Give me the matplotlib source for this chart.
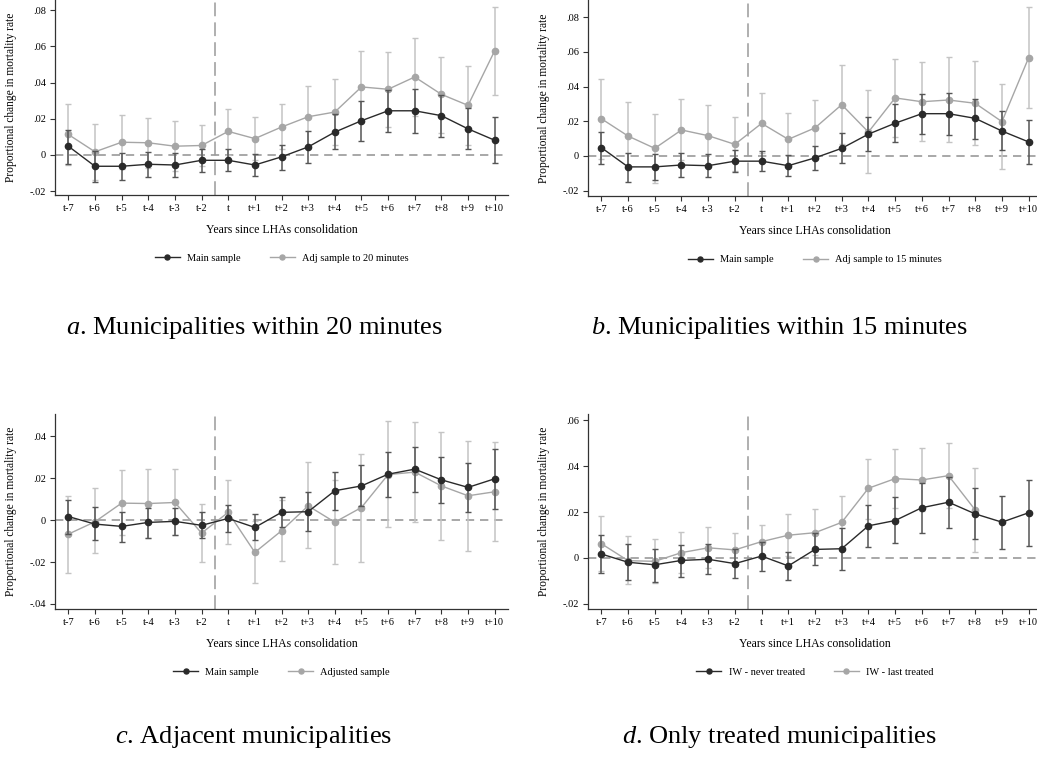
import numpy as np
import matplotlib.pyplot as plt

plt.rcParams['font.family'] = ['Liberation Serif', 'DejaVu Serif']
plt.rcParams['mathtext.fontset'] = 'custom'
plt.rcParams['mathtext.it'] = 'Liberation Serif:italic'
plt.rcParams['mathtext.rm'] = 'Liberation Serif'

periods = ['t-7', 't-6', 't-5', 't-4', 't-3', 't-2', 't', 't+1', 't+2', 't+3',
           't+4', 't+5', 't+6', 't+7', 't+8', 't+9', 't+10']

# main sample (panels a and b)
main_ab = [0.0048, -0.0063, -0.0063, -0.0052, -0.0056, -0.0030, -0.0030, -0.0056, -0.0011,
           0.0044, 0.0126, 0.0189, 0.0244, 0.0244, 0.0217, 0.0144, 0.0081]
main_ab_hi = [0.0140, 0.0020, 0.0011, 0.0017, 0.0013, 0.0033, 0.0031, 0.0007, 0.0057,
              0.0130, 0.0224, 0.0298, 0.0359, 0.0365, 0.0331, 0.0257, 0.0207]
main_ab_lo = [-0.0048, -0.0150, -0.0140, -0.0122, -0.0122, -0.0094, -0.0089, -0.0117, -0.0081,
              -0.0043, 0.0031, 0.0078, 0.0128, 0.0122, 0.0100, 0.0033, -0.0044]

# adjusted sample to 20 minutes (panel a)
adj20 = [0.0113, 0.0017, 0.0070, 0.0067, 0.0048, 0.0052, 0.0130, 0.0090, 0.0154,
         0.0211, 0.0237, 0.0376, 0.0363, 0.0431, 0.0335, 0.0274, 0.0576]
adj20_hi = [0.0283, 0.0169, 0.0219, 0.0206, 0.0185, 0.0165, 0.0252, 0.0207, 0.0281,
            0.0383, 0.0422, 0.0574, 0.0569, 0.0644, 0.0544, 0.0494, 0.0819]
adj20_lo = [-0.0057, -0.0137, -0.0076, -0.0072, -0.0089, -0.0060, 0.0000, -0.0030, 0.0030,
            0.0044, 0.0056, 0.0180, 0.0156, 0.0215, 0.0122, 0.0056, 0.0333]

# adjusted sample to 15 minutes (panel b)
adj15 = [0.0215, 0.0115, 0.0044, 0.0150, 0.0117, 0.0067, 0.0188, 0.0096, 0.0162,
         0.0296, 0.0138, 0.0335, 0.0313, 0.0323, 0.0304, 0.0198, 0.0567]
adj15_hi = [0.0446, 0.0313, 0.0244, 0.0327, 0.0292, 0.0223, 0.0362, 0.0250, 0.0323,
            0.0523, 0.0380, 0.0558, 0.0542, 0.0569, 0.0548, 0.0415, 0.0858]
adj15_lo = [-0.0019, -0.0062, -0.0156, -0.0023, -0.0060, -0.0087, 0.0015, -0.0060, 0.0002,
            0.0069, -0.0096, 0.0112, 0.0087, 0.0079, 0.0062, -0.0077, 0.0275]

# main sample / IW never treated (panels c and d)
main_cd = [0.0017, -0.0019, -0.0030, -0.0011, -0.0006, -0.0025, 0.0008, -0.0035, 0.0037,
           0.0040, 0.0140, 0.0163, 0.0219, 0.0243, 0.0192, 0.0156, 0.0197]
main_cd_hi = [0.0098, 0.0062, 0.0041, 0.0057, 0.0060, 0.0037, 0.0070, 0.0027, 0.0108,
              0.0132, 0.0230, 0.0265, 0.0325, 0.0351, 0.0303, 0.0270, 0.0341]
main_cd_lo = [-0.0065, -0.0097, -0.0103, -0.0083, -0.0071, -0.0086, -0.0056, -0.0097, -0.0033,
              -0.0051, 0.0048, 0.0065, 0.0110, 0.0132, 0.0081, 0.0041, 0.0052]

# adjacent municipalities (panel c)
adjc = [-0.0067, -0.0008, 0.0081, 0.0079, 0.0084, -0.0062, 0.0037, -0.0154, -0.0051,
        0.0068, -0.0010, 0.0060, 0.0217, 0.0229, 0.0163, 0.0116, 0.0135]
adjc_hi = [0.0117, 0.0152, 0.0238, 0.0243, 0.0243, 0.0075, 0.0190, -0.0005, 0.0095,
           0.0275, 0.0190, 0.0317, 0.0475, 0.0467, 0.0421, 0.0378, 0.0371]
adjc_lo = [-0.0251, -0.0157, -0.0073, -0.0083, -0.0073, -0.0200, -0.0114, -0.0302, -0.0195,
           -0.0133, -0.0210, -0.0198, -0.0035, -0.0011, -0.0097, -0.0146, -0.0098]

# IW last treated (panel d), up to t+8
iw_last = [0.0062, -0.0012, -0.0015, 0.0023, 0.0044, 0.0035, 0.0071, 0.0099, 0.0110,
           0.0155, 0.0304, 0.0346, 0.0340, 0.0359, 0.0209]
iw_last_hi = [0.0182, 0.0094, 0.0084, 0.0112, 0.0134, 0.0107, 0.0142, 0.0190, 0.0212,
              0.0269, 0.0430, 0.0475, 0.0478, 0.0501, 0.0394]
iw_last_lo = [-0.0055, -0.0116, -0.0109, -0.0065, -0.0046, -0.0036, 0.0000, 0.0007, 0.0012,
              0.0041, 0.0171, 0.0218, 0.0203, 0.0219, 0.0026]

DARK = '#2a2a2a'
DARK_CI = '#555555'
LIGHT = '#a6a6a6'
LIGHT_CI = '#c4c4c4'

W, H = 1037, 757
fig = plt.figure(figsize=(W / 100, H / 100), dpi=100)


def px_axes(left, top, right, bottom):
    return fig.add_axes([left / W, 1 - bottom / H, (right - left) / W, (bottom - top) / H])


def series(ax, y, lo, hi, color, ci_color, label, z):
    x = np.arange(len(y))
    y = np.array(y)
    err = [y - np.array(lo), np.array(hi) - y]
    ax.errorbar(x, y, yerr=err, fmt='none', ecolor=ci_color, elinewidth=1.1,
                capsize=2.5, capthick=1.0, zorder=z)
    ax.plot(x, y, '-o', color=color, lw=1.0, ms=4.5, label=label, zorder=z + 1)


def panel(ax, ylim, yticks, ytl, s1, s2, labels):
    ax.axhline(0, color='#9a9a9a', lw=1.2, ls=(0, (5, 3.5)), zorder=1)
    ax.axvline(5.5, color='#9a9a9a', lw=1.1, ls=(0, (9, 4)), zorder=1)
    series(ax, *s2, LIGHT, LIGHT_CI, labels[1], 2)
    series(ax, *s1, DARK, DARK_CI, labels[0], 4)
    ax.set_xlim(-0.5, 16.5)
    ax.set_ylim(*ylim)
    ax.set_xticks(range(len(periods)))
    ax.set_xticklabels(periods, fontsize=7.5)
    ax.set_yticks(yticks)
    ax.set_yticklabels(ytl, fontsize=7.5)
    ax.tick_params(direction='out', length=3.5, width=0.8, color='#333333', pad=3)
    for s in ['top', 'right']:
        ax.spines[s].set_visible(False)
    for s in ['left', 'bottom']:
        ax.spines[s].set_color('#333333')
        ax.spines[s].set_linewidth(0.9)
    ax.set_xlabel('Years since LHAs consolidation', fontsize=8.5, labelpad=8)
    ax.set_ylabel('Proportional change in mortality rate', fontsize=8.3, labelpad=9)
    h, l = ax.get_legend_handles_labels()
    ax.legend(h[::-1], l[::-1], loc='center', bbox_to_anchor=(0.5, -0.325), ncol=2,
              frameon=False, fontsize=7.5, handlelength=2.4, columnspacing=2.8,
              handletextpad=0.7, markerscale=0.8)


ax_a = px_axes(55, 0, 508, 195)
panel(ax_a, (-0.0222, 0.0857), [-0.02, 0, 0.02, 0.04, 0.06, 0.08],
      ['-.02', '0', '.02', '.04', '.06', '.08'],
      (main_ab, main_ab_lo, main_ab_hi), (adj20, adj20_lo, adj20_hi),
      ['Main sample', 'Adj sample to 20 minutes'])

ax_b = px_axes(588, 0, 1042, 196)
panel(ax_b, (-0.0231, 0.09), [-0.02, 0, 0.02, 0.04, 0.06, 0.08],
      ['-.02', '0', '.02', '.04', '.06', '.08'],
      (main_ab, main_ab_lo, main_ab_hi), (adj15, adj15_lo, adj15_hi),
      ['Main sample', 'Adj sample to 15 minutes'])

ax_c = px_axes(55, 414, 508, 609)
panel(ax_c, (-0.0424, 0.0506), [-0.04, -0.02, 0, 0.02, 0.04],
      ['-.04', '-.02', '0', '.02', '.04'],
      (main_cd, main_cd_lo, main_cd_hi), (adjc, adjc_lo, adjc_hi),
      ['Main sample', 'Adjusted sample'])

ax_d = px_axes(588, 414, 1042, 609)
panel(ax_d, (-0.0223, 0.0628), [-0.02, 0, 0.02, 0.04, 0.06],
      ['-.02', '0', '.02', '.04', '.06'],
      (main_cd, main_cd_lo, main_cd_hi), (iw_last, iw_last_lo, iw_last_hi),
      ['IW - never treated', 'IW - last treated'])

captions = [(254, 328, 'a', 'Municipalities within 20 minutes'),
            (779, 328, 'b', 'Municipalities within 15 minutes'),
            (254, 737, 'c', 'Adjacent municipalities'),
            (779, 737, 'd', 'Only treated municipalities')]
for cx, cy, letter, text in captions:
    fig.text(cx / W, 1 - cy / H, r'$\mathit{' + letter + r'}$.' + ' ' + text,
             ha='center', va='center', fontsize=19)

fig.savefig('out.png', dpi=100)
